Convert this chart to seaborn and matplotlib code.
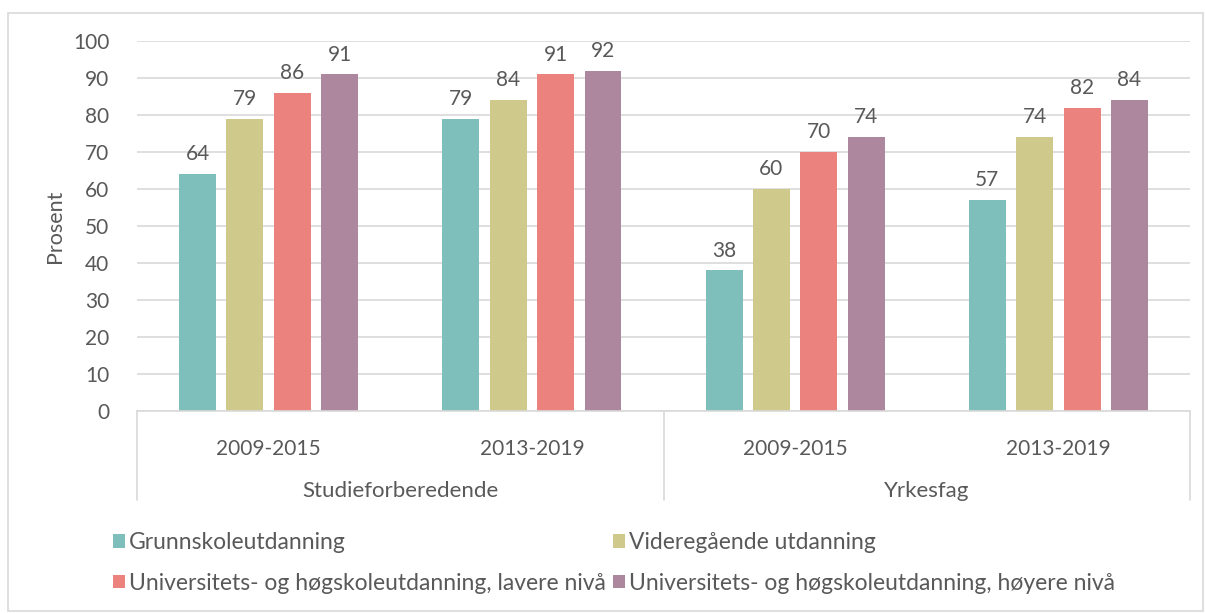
import numpy as np
import pandas as pd
import matplotlib.pyplot as plt
import matplotlib.patches as patches
import seaborn as sns

# data
programmes = ['Studieforberedende', 'Yrkesfag']
periods = ['2009-2015', '2013-2019']
levels = ['Grunnskoleutdanning',
          'Videregående utdanning',
          'Universitets- og høgskoleutdanning, lavere nivå',
          'Universitets- og høgskoleutdanning, høyere nivå']
grunnskole = [64, 79, 38, 57]
videregaende = [79, 84, 60, 74]
hogskole_lav = [86, 91, 70, 82]
hogskole_hoy = [91, 92, 74, 84]

colors = ['#7fbfbb', '#cfca8c', '#eb827e', '#ad879e']
text_col = '#595959'
grid_col = '#d9d9d9'
fs = 15

rows = []
slots = [(p, per) for p in programmes for per in periods]
for lvl, vals in zip(levels, [grunnskole, videregaende, hogskole_lav, hogskole_hoy]):
    for (prog, per), v in zip(slots, vals):
        rows.append({'slot': prog + '|' + per, 'program': prog, 'period': per,
                     'level': lvl, 'value': v})
df = pd.DataFrame(rows)
order = [p + '|' + per for p, per in slots]

sns.set_style('white')
plt.rcParams['font.family'] = ['Lato', 'DejaVu Sans']

fig = plt.figure(figsize=(12.05, 6.13), dpi=100)
ax = fig.add_axes([0.1137, 0.3295, 0.8739, 0.6036])

sns.barplot(data=df, x='slot', y='value', hue='level', order=order,
            hue_order=levels, palette=colors, width=0.72, gap=0.22,
            saturation=1, linewidth=0, ax=ax, legend=True)

for cont in ax.containers:
    ax.bar_label(cont, padding=7, fontsize=fs, color=text_col)

ax.set_ylim(0, 100)
ax.set_xlim(-0.5, len(order) - 0.5)
ax.set_yticks(np.arange(0, 101, 10))
ax.yaxis.grid(True, color=grid_col, linewidth=1.2)
ax.set_axisbelow(True)
for s in ['top', 'right', 'left']:
    ax.spines[s].set_visible(False)
ax.spines['bottom'].set_color(grid_col)
ax.spines['bottom'].set_linewidth(1.2)
ax.tick_params(axis='y', length=0, labelsize=fs, labelcolor=text_col, pad=20)
ax.tick_params(axis='x', length=0, labelsize=fs, labelcolor=text_col, pad=20)
ax.set_xticks(range(len(order)))
ax.set_xticklabels([s.split('|')[1] for s in order])
ax.set_xlabel('')
ax.set_ylabel('Prosent', fontsize=fs + 0.5, color=text_col, labelpad=6)

# group separators and group labels below the axis
trans = ax.get_xaxis_transform()
n_per = len(periods)
for i in range(len(programmes) + 1):
    xpos = i * n_per - 0.5
    ax.plot([xpos, xpos], [0, -0.24], transform=trans, color=grid_col,
            linewidth=1.2, clip_on=False)
for i, prog in enumerate(programmes):
    mid = i * n_per + (n_per - 1) / 2
    ax.text(mid, -0.215, prog, transform=trans, ha='center', va='center',
            fontsize=16, color=text_col)

# legend filled row by row, two columns
handles, labels = ax.get_legend_handles_labels()
ax.get_legend().remove()
idx = [0, 2, 1, 3]
fig.legend([handles[i] for i in idx], [labels[i] for i in idx],
           loc='upper left', bbox_to_anchor=(0.086, 0.147),
           ncol=2, frameon=False, fontsize=16.5, labelcolor=text_col,
           handlelength=0.55, handleheight=0.55, handletextpad=0.15,
           columnspacing=0.3, labelspacing=0.85, borderaxespad=0)

fig.patches.append(patches.Rectangle((0.007, 0.003), 0.991, 0.975,
                                     transform=fig.transFigure, fill=False,
                                     edgecolor=grid_col, linewidth=1.2))

fig.savefig('out.png', dpi=100)
